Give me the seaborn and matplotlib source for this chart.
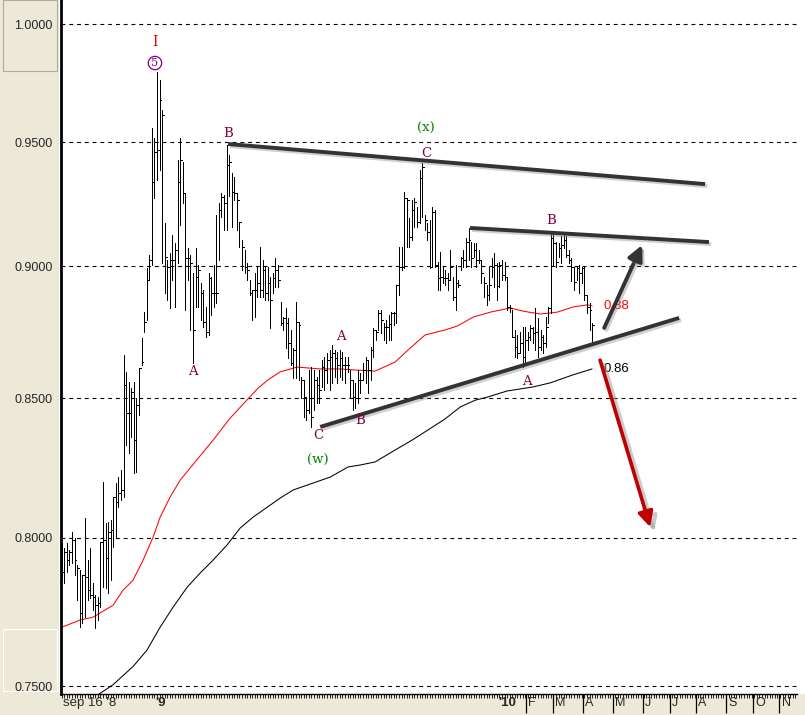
import numpy as np
import pandas as pd
import matplotlib
matplotlib.use("Agg")
import matplotlib.pyplot as plt
import matplotlib.patheffects as pe
from matplotlib.patches import Rectangle
from matplotlib.transforms import blended_transform_factory
import seaborn as sns

# ---------------- data ----------------
highs = [.7981,.7964,.7981,.7957,.8019,.7998,.7905,.7888,.7870,.8068,.7922,.7964,.7843,.7802,.7795,.7984,.8195,.8051,.8054,.8061,
         .8142,.8191,.8213,.8238,.8660,.8597,.8560,.8537,.8560,.8500,.8611,.8725,.8823,.8994,.9045,.9558,.9516,.9794,.9760,.9633,
         .9171,.9025,.9052,.9124,.9092,.9426,.9516,.9418,.9292,.9072,.9045,.8974,.9072,.9006,.8935,.8908,.8843,.8974,.8959,.9006,
         .9203,.9252,.9292,.9284,.9488,.9447,.9373,.9357,.9292,.9175,.9104,.9064,.9013,.8947,.8908,.8974,.8998,.9076,.9025,.8998,
         .8998,.8959,.8974,.9033,.9006,.8862,.8804,.8839,.8801,.8755,.8687,.8862,.8785,.8578,.8567,.8504,.8604,.8615,.8604,.8578,
         .8604,.8641,.8652,.8667,.8679,.8698,.8679,.8671,.8679,.8671,.8652,.8652,.8604,.8567,.8556,.8604,.8593,.8630,.8652,.8641,
         .8690,.8763,.8755,.8831,.8831,.8782,.8793,.8812,.8823,.8823,.8928,.9076,.9076,.9296,.9272,.9191,.9264,.9272,.9235,.9385,
         .9414,.9203,.9171,.9183,.9235,.9223,.9017,.9056,.8998,.8986,.8974,.9064,.8959,.9006,.8947,.9037,.9064,.9112,.9152,.9096,
         .9092,.9092,.9064,.9025,.8959,.8928,.8998,.9033,.9052,.9013,.9017,.9025,.9017,.8959,.8851,.8831,.8755,.8736,.8747,.8766,
         .8766,.8747,.8774,.8766,.8839,.8801,.8755,.8736,.8804,.8843,.9128,.9128,.9096,.9092,.9120,.9128,.9120,.9064,.9033,.8998,
         .8998,.9006,.8998,.8998,.8889,.8858,.8782]
lows = [.7860,.7843,.7881,.7905,.7912,.7870,.7785,.7694,.7708,.7728,.7785,.7792,.7751,.7691,.7718,.7761,.7829,.7826,.7809,.7853,
        .7967,.7998,.8106,.8131,.8142,.8328,.8299,.8357,.8228,.8231,.8438,.8623,.8747,.8793,.8947,.9006,.9272,.9344,.9385,.9013,
        .8897,.8870,.8839,.8947,.8843,.9013,.9164,.9252,.8831,.8947,.8755,.8630,.8843,.8843,.8793,.8766,.8728,.8736,.8812,.8843,
        .8858,.9025,.9195,.9144,.9144,.9280,.9156,.9264,.9144,.9076,.8986,.8974,.8947,.8889,.8793,.8804,.8881,.8881,.8881,.8870,
        .8870,.8763,.8897,.8920,.8920,.8774,.8755,.8687,.8649,.8623,.8575,.8575,.8567,.8500,.8430,.8419,.8445,.8394,.8456,.8481,
        .8481,.8541,.8530,.8556,.8530,.8556,.8578,.8556,.8578,.8567,.8556,.8597,.8500,.8456,.8463,.8481,.8519,.8567,.8556,.8519,
        .8567,.8652,.8717,.8755,.8744,.8717,.8706,.8717,.8717,.8774,.8782,.8889,.8986,.8994,.9076,.9076,.9104,.9156,.9156,.9171,
        .9195,.9144,.9104,.8994,.8998,.8998,.8908,.8908,.8935,.8928,.8908,.8947,.8870,.8831,.8920,.8986,.8998,.8998,.9025,.8998,
        .9037,.8998,.9013,.8935,.8881,.8851,.8870,.8959,.8920,.8870,.8920,.8947,.8947,.8831,.8823,.8728,.8652,.8649,.8667,.8615,
        .8630,.8679,.8717,.8706,.8679,.8652,.8679,.8667,.8690,.8782,.8820,.9006,.8998,.9037,.9013,.9072,.9037,.9013,.8943,.8908,
        .8947,.8897,.8935,.8870,.8820,.8755,.8706]
closes = [.7881,.7950,.7922,.7950,.7991,.7922,.7895,.7741,.7870,.7864,.7819,.7802,.7795,.7768,.7775,.7984,.7991,.7929,.8019,.8026,
          .8142,.8124,.8156,.8167,.8549,.8445,.8445,.8522,.8346,.8474,.8611,.8634,.8785,.8947,.9025,.9336,.9459,.9467,.9675,.9612,
          .9037,.8998,.9025,.9025,.9064,.9336,.9426,.9292,.9033,.9033,.9013,.8755,.8959,.8986,.8897,.8785,.8747,.8955,.8897,.8897,
          .8897,.9223,.9276,.9252,.9405,.9418,.9296,.9292,.9264,.9175,.9076,.8998,.8986,.8897,.8908,.8908,.8935,.8908,.8986,.8897,
          .8935,.8870,.8955,.8986,.8947,.8781,.8801,.8781,.8706,.8630,.8679,.8785,.8774,.8567,.8504,.8456,.8500,.8430,.8567,.8549,
          .8530,.8615,.8604,.8641,.8652,.8667,.8649,.8623,.8649,.8623,.8623,.8623,.8567,.8504,.8500,.8567,.8567,.8604,.8641,.8604,
          .8679,.8755,.8747,.8820,.8793,.8766,.8766,.8778,.8820,.8820,.8928,.8998,.8998,.9272,.9264,.9116,.9223,.9256,.9175,.9352,
          .9397,.9183,.9136,.8998,.9215,.9006,.8955,.8959,.8955,.8955,.8947,.8998,.8881,.8935,.8928,.9033,.9025,.9096,.9104,.9033,
          .9064,.9025,.9025,.8974,.8935,.8889,.8928,.8998,.9006,.8924,.9006,.8967,.8959,.8843,.8839,.8728,.8690,.8667,.8706,.8652,
          .8717,.8728,.8763,.8744,.8747,.8690,.8728,.8706,.8766,.8839,.9112,.9092,.9017,.9072,.9084,.9104,.9045,.9025,.8998,.8939,
          .8994,.8974,.8994,.8889,.8843,.8831,.8774]

# moving averages (bar position, value)
ma_red_pos = [0, 7.1, 12.2, 19.9, 23.8, 27.7, 31.6, 35.5, 38.2, 42.1, 46.0, 51.8, 58.8, 65.4, 71.2, 76.3, 80.1, 84.8,
              91.4, 100.4, 108.1, 114.0, 121.7, 129.5, 134.5, 141.1, 148.9, 153.6, 159.8, 166.4, 174.2, 179.2, 185.8,
              192.4, 198.6, 204.1, 206]
ma_red_val = [.7694, .7718, .7728, .7768, .7819, .7853, .7922, .8002, .8071, .8142, .8202, .8267, .8346, .8426, .8485,
              .8537, .8567, .8597, .8615, .8608, .8608, .8604, .8600, .8634, .8679, .8736, .8755, .8770, .8804, .8823,
              .8839, .8827, .8816, .8823, .8843, .8851, .8847]
ma_blk_pos = [12.9, 19.9, 27.7, 33.1, 38.2, 43.2, 48.7, 53.7, 58.8, 64.2, 69.3, 74.3, 79.8, 84.8, 89.9, 96.5, 104.3,
              111.2, 115.9, 121.7, 129.5, 136.1, 142.3, 148.9, 154.8, 160.6, 165.2, 173.0, 183.1, 189.7, 198.6, 206]
ma_blk_val = [.7465, .7504, .7564, .7618, .7694, .7761, .7829, .7877, .7922, .7974, .8033, .8071, .8106, .8138, .8167,
              .8188, .8213, .8249, .8256, .8267, .8310, .8346, .8383, .8423, .8467, .8492, .8503, .8526, .8541, .8556,
              .8586, .8608]

y_ticks = [0.75, 0.80, 0.85, 0.90, 0.95, 1.00]
month_labels = ["F", "M", "A", "M", "J", "J", "A", "S", "O", "N"]
month_pos = [180.4, 190.8, 202.4, 214.1, 225.7, 236.1, 246.4, 258.1, 268.5, 278.8]
year_labels = ["sep 16 '8", "'9", "'10"]
year_pos = [0.5, 36.2, 169.5]

# trendlines / arrows (bar position, price)
trend_lines = [((64.6, .9492), (249.9, .9328)),
               ((158.6, .9152), (251.4, .9096)),
               ((100.4, .8394), (239.8, .8801))]
up_arrow = ((210.7, .8763), (225.4, .9084))
down_arrow = ((209.1, .8641), (228.6, .8036))

wave_labels = [("A", 51.0, .8597), ("B", 64.6, .9537), ("C", 141.6, .9451), ("A", 108.5, .8732),
               ("C", 99.6, .8361), ("B", 115.9, .8416), ("B", 190.1, .9183), ("A", 180.8, .8563)]
green_labels = [("(x)", 141.6, .9555), ("(w)", 99.6, .8274)]

# ---------------- figure ----------------
sns.set_style("white")
plt.rcParams['font.family'] = ['Liberation Sans', 'DejaVu Sans']
W, H = 805, 715
fig = plt.figure(figsize=(W / 100, H / 100), dpi=100, facecolor="white")
beige = "#ECE9D8"
fig.patches.append(Rectangle((0, 0), 59 / W, 1, transform=fig.transFigure, fc=beige, ec="none", zorder=-5))
fig.patches.append(Rectangle((0, 0), 1, 21 / H, transform=fig.transFigure, fc=beige, ec="none", zorder=-5))
fig.patches.append(Rectangle((3 / W, (H - 71) / H), 54 / W, 71 / H, transform=fig.transFigure,
                             fc="none", ec="#b0ad9e", lw=0.8, zorder=-4))
fig.patches.append(Rectangle((3 / W, 24 / H), 54 / W, 62 / H, transform=fig.transFigure,
                             fc="none", ec="#ffffff", lw=0.8, zorder=-4))

ax = fig.add_axes([61 / W, 21 / H, (797 - 61) / W, (H - 21) / H])
ax.set_facecolor("white")

n = len(highs)
df = pd.DataFrame({"pos": np.arange(n), "high": highs, "low": lows, "close": closes})

ax.set_yscale("log")
ax.set_ylim(0.7474, 1.0105)
ax.set_xlim(-0.3, 285.6)

for v in y_ticks:
    ax.axhline(v, color="black", lw=0.8, ls=(0, (3.5, 3.5)), zorder=1)

ax.vlines(df["pos"], df["low"], df["high"], color="black", lw=0.7, zorder=3, antialiased=False)
ax.hlines(df["close"], df["pos"], df["pos"] + 0.7, color="black", lw=0.7, zorder=3, antialiased=False)

red_df = pd.DataFrame({"pos": ma_red_pos, "val": ma_red_val})
blk_df = pd.DataFrame({"pos": ma_blk_pos, "val": ma_blk_val})
sns.lineplot(data=red_df, x="pos", y="val", ax=ax, color="#ff0000", lw=0.75, sort=False, zorder=2)
sns.lineplot(data=blk_df, x="pos", y="val", ax=ax, color="black", lw=0.75, sort=False, zorder=2)

shadow = [pe.SimpleLineShadow(offset=(1.5, -1.5), shadow_color="#888888", alpha=0.4), pe.Normal()]
for (x0, y0), (x1, y1) in trend_lines:
    ax.plot([x0, x1], [y0, y1], color="#333333", lw=2.8, solid_capstyle="butt", zorder=4, path_effects=shadow)

ax.annotate("", xy=up_arrow[1], xytext=up_arrow[0],
            arrowprops=dict(arrowstyle="-|>,head_length=0.9,head_width=0.45", lw=2.8, color="#333333",
                            shrinkA=0, shrinkB=0, path_effects=shadow), zorder=5)
ax.annotate("", xy=down_arrow[1], xytext=down_arrow[0],
            arrowprops=dict(arrowstyle="-|>,head_length=0.9,head_width=0.45", lw=2.6, color="#c00000",
                            shrinkA=0, shrinkB=0,
                            path_effects=[pe.SimpleLineShadow(offset=(3, -3), shadow_color="#999999", alpha=0.5),
                                          pe.Normal()]), zorder=5)

serif = ["DejaVu Serif"]
purple = "#800040"
for t, x, y in wave_labels:
    ax.text(x, y, t, color=purple, family=serif, fontsize=9.5, ha="center", va="center", zorder=6)
for t, x, y in green_labels:
    ax.text(x, y, t, color="#008000", family=serif, fontsize=9.5, ha="center", va="center", zorder=6)
ax.text(36.2, .9922, "I", color="#e00000", family=serif, fontsize=10, ha="center", va="center")
ax.text(36.2, .9832, "5", color="#800080", family=serif, fontsize=8, ha="center", va="center",
        bbox=dict(boxstyle="circle,pad=0.15", fc="white", ec="#800080", lw=0.9))
ax.text(210.3, ma_red_val[-1], "0.88", color="#ff0000", fontsize=9.5, ha="left", va="center")
ax.text(210.3, ma_blk_val[-1], "0.86", color="black", fontsize=9.5, ha="left", va="center")

# axes styling
ax.set_yticks(y_ticks)
ax.set_yticklabels([f"{v:.4f}" for v in y_ticks], fontsize=9)
ax.yaxis.set_minor_locator(matplotlib.ticker.NullLocator())
ax.tick_params(axis="y", which="both", length=0, pad=6, left=True, labelleft=True)
ax.set_xlabel("")
ax.set_ylabel("")
for s in ["top", "right"]:
    ax.spines[s].set_visible(False)
ax.spines["left"].set_linewidth(2.0)
ax.spines["bottom"].set_linewidth(1.0)
ax.spines["left"].set_color("black")
ax.spines["bottom"].set_color("black")

ax.set_xticks(month_pos)
ax.set_xticklabels([])
ax.tick_params(axis="x", which="major", length=14, width=0.9, direction="out", color="black", bottom=True)
ax.set_xticks(np.arange(0, 286, 1.0), minor=True)
ax.tick_params(axis="x", which="minor", length=3, width=0.6, direction="out", color="black", bottom=True)

trans = blended_transform_factory(ax.transData, ax.transAxes)
for t, p in zip(month_labels, month_pos):
    ax.text(p + 0.9, -0.004, t, transform=trans, fontsize=9, ha="left", va="top", clip_on=False)
for i, (t, p) in enumerate(zip(year_labels, year_pos)):
    ax.text(p, -0.004, t, transform=trans, fontsize=9.5, ha="left", va="top", clip_on=False,
            fontweight="normal" if i == 0 else "bold")

fig.savefig("out.png", dpi=100, facecolor="white")
